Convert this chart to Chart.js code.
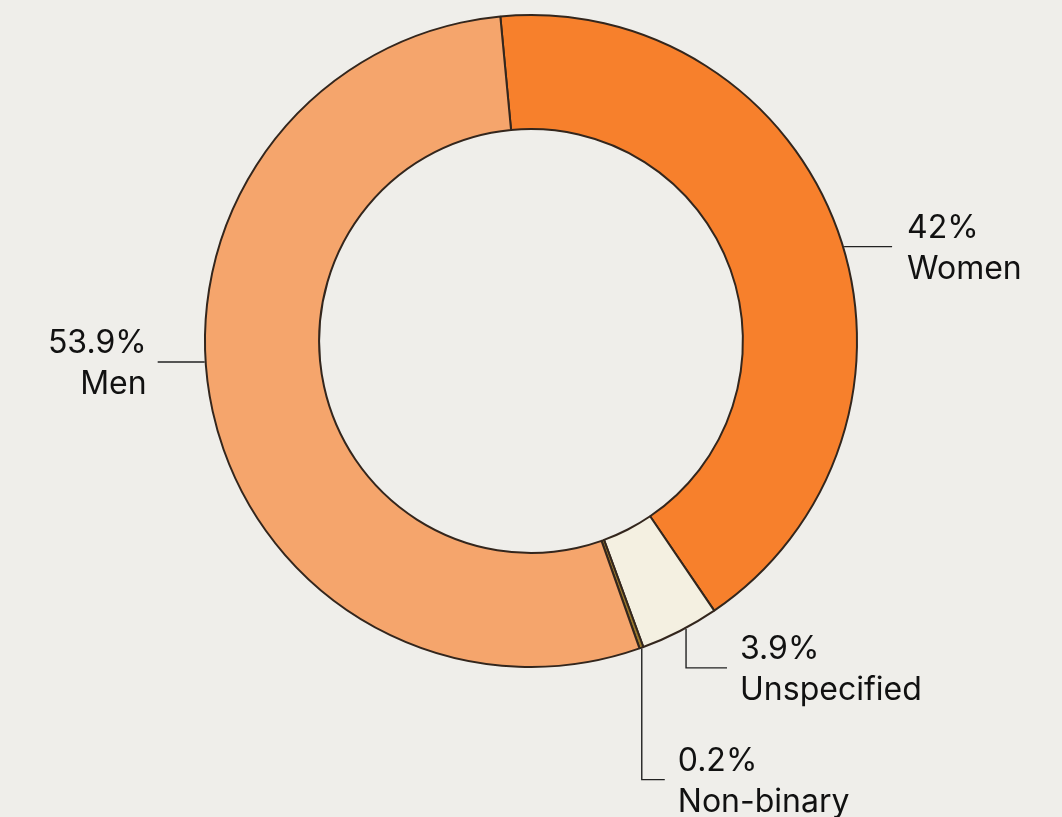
<!DOCTYPE html>
<html>
<head>
<meta charset="utf-8">
<script src="https://cdn.jsdelivr.net/npm/chart.js@4.4.1/dist/chart.umd.min.js"></script>
<style>
  html, body { margin: 0; padding: 0; background: #efeeea; }
  #wrap { width: 1062px; height: 817px; }
</style>
</head>
<body>
<div id="wrap"><canvas id="myChart"></canvas></div>
<script>
const categories = ['Women', 'Unspecified', 'Non-binary', 'Men'];
const shares = [42, 3.9, 0.2, 53.9];
const shareLabels = ['42%', '3.9%', '0.2%', '53.9%'];
const sliceColors = ['#f7802c', '#f4f0e1', '#9c7a2c', '#f5a56c'];

// where along each slice the leader line starts, and how it runs
const leaders = [
  { at: 0.52, kind: 'right', len: 48 },
  { at: 0.42, kind: 'elbow', drop: 39, len: 41 },
  { at: 0.5, kind: 'elbow', drop: 131, len: 23 },
  { at: 0.545, kind: 'left', len: 47 }
];

const leaderPlugin = {
  id: 'leaders',
  afterDatasetsDraw(chart) {
    const ctx = chart.ctx;
    const arcs = chart.getDatasetMeta(0).data;
    ctx.save();
    ctx.strokeStyle = '#222';
    ctx.lineWidth = 1.4;
    ctx.fillStyle = '#111';
    ctx.font = '32px Inter, "Noto Sans", sans-serif';
    ctx.textBaseline = 'alphabetic';
    arcs.forEach((arc, i) => {
      const l = leaders[i];
      const p = arc.getProps(['x', 'y', 'startAngle', 'endAngle', 'outerRadius']);
      const a = p.startAngle + (p.endAngle - p.startAngle) * l.at;
      const r = p.outerRadius + 1;
      const x0 = p.x + Math.cos(a) * r;
      const y0 = p.y + Math.sin(a) * r;
      let x1, y1, tx;
      ctx.beginPath();
      ctx.moveTo(x0, y0);
      if (l.kind === 'elbow') {
        ctx.lineTo(x0, y0 + l.drop);
        x1 = x0 + l.len; y1 = y0 + l.drop;
        ctx.lineTo(x1, y1);
        tx = x1 + 13;
        ctx.textAlign = 'left';
      } else if (l.kind === 'right') {
        x1 = x0 + l.len; y1 = y0;
        ctx.lineTo(x1, y1);
        tx = x1 + 15;
        ctx.textAlign = 'left';
      } else {
        x1 = x0 - l.len; y1 = y0;
        ctx.lineTo(x1, y1);
        tx = x1 - 11;
        ctx.textAlign = 'right';
      }
      ctx.stroke();
      ctx.fillText(shareLabels[i], tx, y1 - 9);
      ctx.fillText(categories[i], tx, y1 + 32);
    });
    ctx.restore();
  }
};

const ctx = document.getElementById('myChart').getContext('2d');
new Chart(ctx, {
  type: 'doughnut',
  data: {
    labels: categories,
    datasets: [{
      data: shares,
      backgroundColor: sliceColors,
      borderColor: '#33261d',
      borderWidth: 2
    }]
  },
  options: {
    responsive: true,
    maintainAspectRatio: false,
    animation: false,
    rotation: -5.4,
    cutout: '65%',
    layout: { padding: { top: 14, bottom: 149 } },
    plugins: {
      legend: { display: false },
      tooltip: { enabled: false }
    }
  },
  plugins: [leaderPlugin]
});
</script>
</body>
</html>
